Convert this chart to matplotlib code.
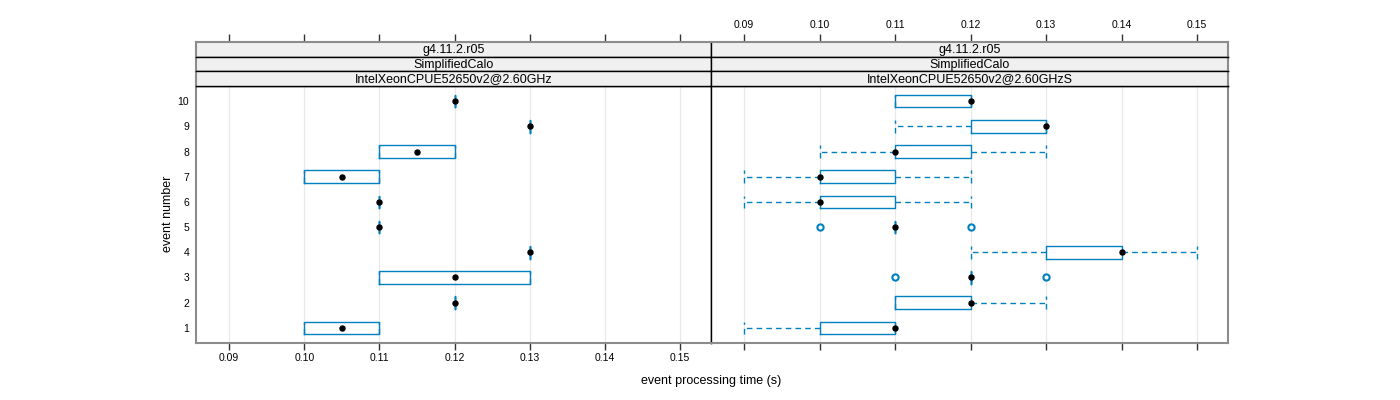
import matplotlib
matplotlib.use("Agg")
import matplotlib.pyplot as plt

plt.rcParams['font.family'] = ['Liberation Sans', 'DejaVu Sans']
plt.rcParams['lines.scale_dashes'] = False

events = [1, 2, 3, 4, 5, 6, 7, 8, 9, 10]
xticks = [0.09, 0.10, 0.11, 0.12, 0.13, 0.14, 0.15]
xtick_labels = ["0.09", "0.10", "0.11", "0.12", "0.13", "0.14", "0.15"]
strip_rows = ["g4.11.2.r05", "SimplifiedCalo"]
machines = ["IntelXeonCPUE52650v2@2.60GHz", "IntelXeonCPUE52650v2@2.60GHzS"]

# panel 1 (per event 1..10)
p1_whislo = [0.10, 0.12, 0.11, 0.13, 0.11, 0.11, 0.10, 0.11, 0.13, 0.12]
p1_q1     = [0.10, 0.12, 0.11, 0.13, 0.11, 0.11, 0.10, 0.11, 0.13, 0.12]
p1_med    = [0.105, 0.12, 0.12, 0.13, 0.11, 0.11, 0.105, 0.115, 0.13, 0.12]
p1_q3     = [0.11, 0.12, 0.13, 0.13, 0.11, 0.11, 0.11, 0.12, 0.13, 0.12]
p1_whishi = [0.11, 0.12, 0.13, 0.13, 0.11, 0.11, 0.11, 0.12, 0.13, 0.12]
p1_fliers = [[], [], [], [], [], [], [], [], [], []]

# panel 2
p2_whislo = [0.09, 0.11, 0.12, 0.12, 0.11, 0.09, 0.09, 0.10, 0.11, 0.11]
p2_q1     = [0.10, 0.11, 0.12, 0.13, 0.11, 0.10, 0.10, 0.11, 0.12, 0.11]
p2_med    = [0.11, 0.12, 0.12, 0.14, 0.11, 0.10, 0.10, 0.11, 0.13, 0.12]
p2_q3     = [0.11, 0.12, 0.12, 0.14, 0.11, 0.11, 0.11, 0.12, 0.13, 0.12]
p2_whishi = [0.11, 0.13, 0.12, 0.15, 0.11, 0.12, 0.12, 0.13, 0.13, 0.12]
p2_fliers = [[], [], [0.11, 0.13], [], [0.10, 0.12], [], [], [], [], []]

panels = [
    (p1_whislo, p1_q1, p1_med, p1_q3, p1_whishi, p1_fliers),
    (p2_whislo, p2_q1, p2_med, p2_q3, p2_whishi, p2_fliers),
]

BLUE = '#0080c0'
FRAME = '#8c8c8c'
W, H = 1400, 400

fig = plt.figure(figsize=(14, 4), dpi=100)

panel_x = [(196, 711), (711, 1228)]
panel_top, panel_bot = 86, 343
strip_h = (panel_top - 42) / 3.0
xlim = (0.0856, 0.1541)

for i, (x0, x1) in enumerate(panel_x):
    whislo, q1, med, q3, whishi, fliers = panels[i]
    ax = fig.add_axes([x0 / W, 1 - panel_bot / H, (x1 - x0) / W, (panel_bot - panel_top) / H])
    stats = []
    for k in range(len(events)):
        stats.append(dict(whislo=whislo[k], q1=q1[k], med=med[k], q3=q3[k],
                          whishi=whishi[k], fliers=fliers[k]))
    ax.bxp(stats, positions=events, orientation='horizontal', widths=0.5, capwidths=0.5,
           showmeans=False,
           boxprops=dict(color=BLUE, lw=1.0),
           whiskerprops=dict(color=BLUE, lw=1.0, linestyle=(0, (4, 3))),
           capprops=dict(color=BLUE, lw=1.0, linestyle=(0, (4, 3))),
           medianprops=dict(linestyle='none'),
           flierprops=dict(marker='o', markersize=4.5, markerfacecolor='white',
                           markeredgecolor=BLUE, markeredgewidth=1.5))
    ax.plot(med, events, 'o', color='black', markersize=3.6, zorder=5)
    ax.set_xlim(*xlim)
    ax.set_ylim(0.4, 10.6)
    for t in xticks:
        ax.axvline(t, color='#e8e8e8', lw=0.9, zorder=0)
    ax.set_xticks(xticks)
    ax.set_yticks(events)
    ax.set_yticklabels([str(e) for e in events])
    ax.tick_params(axis='y', length=0, pad=5, labelsize=7.5, left=(i == 0), labelleft=(i == 0))
    ax.tick_params(axis='x', direction='out', length=5, width=1.0, pad=2, labelsize=7.5,
                   labelbottom=(i == 0), color='#333333')
    if i == 0:
        ax.set_xticklabels(xtick_labels)
    for s in ['left', 'right', 'bottom', 'top']:
        ax.spines[s].set_color(FRAME)
        ax.spines[s].set_linewidth(1.5)
    ax.spines['top'].set_color('black')
    ax.spines['top'].set_linewidth(1.0)
    if i == 0:
        ax.spines['right'].set_color('black')
        ax.spines['right'].set_linewidth(1.0)
    else:
        ax.spines['left'].set_color('black')
        ax.spines['left'].set_linewidth(1.0)

    labels = strip_rows + [machines[i]]
    for r, lab in enumerate(labels):
        top = 42 + r * strip_h
        sax = fig.add_axes([x0 / W, 1 - (top + strip_h) / H, (x1 - x0) / W, strip_h / H])
        sax.set_facecolor('#f0f0f0')
        sax.set_xlim(*xlim)
        sax.set_ylim(0, 1)
        sax.text(0.5, 0.45, lab, transform=sax.transAxes, ha='center', va='center', fontsize=9)
        sax.set_yticks([])
        for s in ['left', 'right', 'bottom', 'top']:
            sax.spines[s].set_color('black')
            sax.spines[s].set_linewidth(1.0)
        if i == 0:
            sax.spines['left'].set_color(FRAME)
            sax.spines['left'].set_linewidth(1.5)
        else:
            sax.spines['right'].set_color(FRAME)
            sax.spines['right'].set_linewidth(1.5)
        if r == 0:
            sax.spines['top'].set_color(FRAME)
            sax.spines['top'].set_linewidth(1.5)
            sax.set_xticks(xticks)
            sax.tick_params(axis='x', bottom=False, labelbottom=False, top=True,
                            labeltop=(i == 1), direction='out', length=6, width=1.0,
                            pad=3, labelsize=7.5, color='#333333')
            if i == 1:
                sax.set_xticklabels(xtick_labels)
        else:
            sax.set_xticks([])

fig.text(168 / W, 1 - 214 / H, "event number", rotation=90, ha='center', va='center', fontsize=9)
fig.text(711 / W, 1 - 381 / H, "event processing time (s)", ha='center', va='center', fontsize=9)

fig.savefig("out.png", dpi=100)
